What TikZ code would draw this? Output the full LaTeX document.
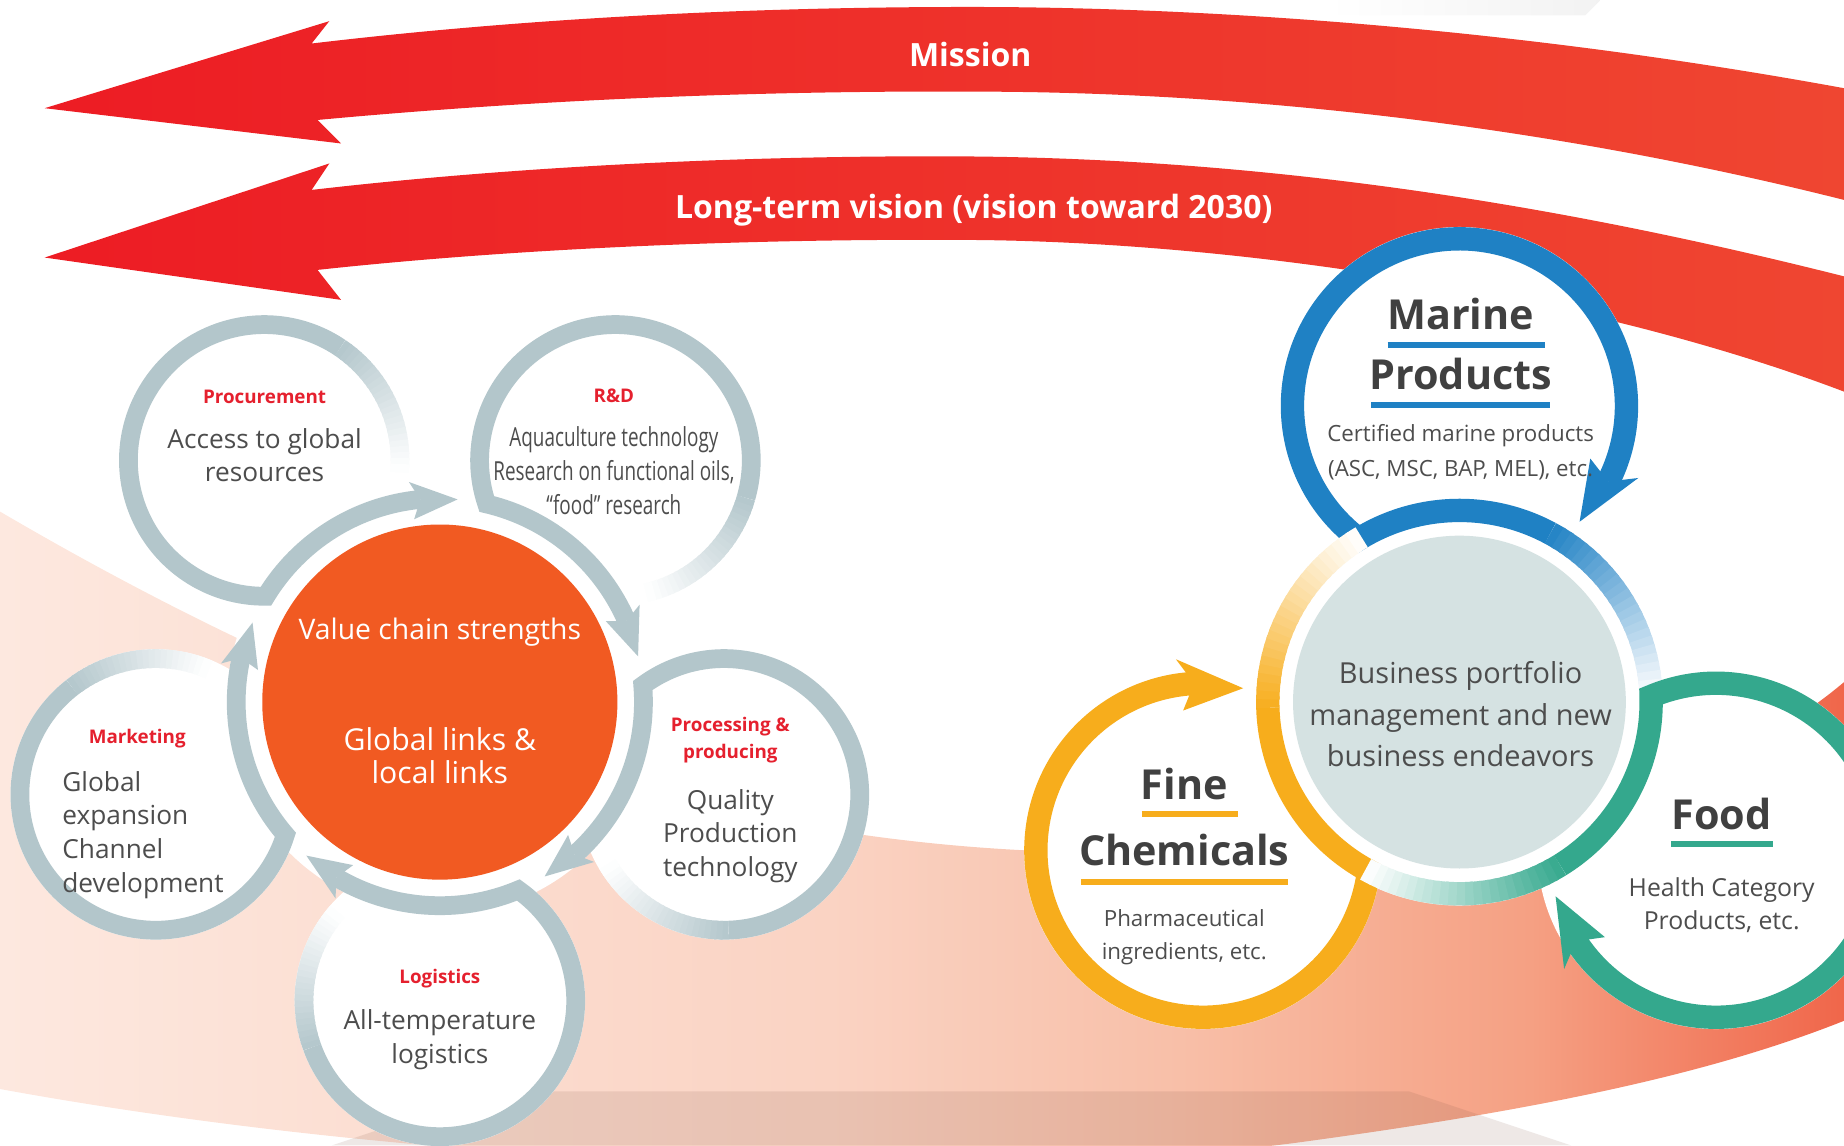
\documentclass[tikz,border=0pt]{standalone}
\usepackage{fontspec}
\setmainfont{Open Sans}
\newfontfamily\condfont{Open Sans}[FakeStretch=0.72]
\usetikzlibrary{calc}
\definecolor{redA}{HTML}{ED1C24}
\definecolor{redB}{HTML}{EF4631}
\definecolor{ringgrey}{HTML}{B3C6CB}
\definecolor{vcorange}{HTML}{F15A22}
\definecolor{mblue}{HTML}{1F81C4}
\definecolor{fyellow}{HTML}{F7AD1C}
\definecolor{fgreen}{HTML}{34A88D}
\definecolor{bpdisk}{HTML}{D5E2E2}
\definecolor{txtgrey}{HTML}{4D4D4D}
\definecolor{ttlgrey}{HTML}{404040}
\definecolor{lblred}{HTML}{E5202E}
\definecolor{bandA}{HTML}{FDE8DF}
\definecolor{bandB}{HTML}{FAD3C3}
\definecolor{bandC}{HTML}{F8BFA8}
\definecolor{bandD}{HTML}{F5A083}
\definecolor{bandE}{HTML}{F0664A}
\definecolor{shadowc}{HTML}{7A5040}
\pgfdeclarehorizontalshading{bandshade}{100bp}{color(0bp)=(bandA); color(25bp)=(bandA); color(47.5bp)=(bandB); color(57bp)=(bandC); color(66.5bp)=(bandD); color(75bp)=(bandE); color(100bp)=(bandE)}
\newcommand\FS[2]{\fontsize{#1pt}{#2pt}\selectfont}
\newcommand\FadeArc[6]{%
  \foreach \i in {0,...,23}{%
    \pgfmathsetmacro\FAa{#3+(#4-#3)*\i/24}%
    \pgfmathsetmacro\FAb{#3+(#4-#3)*(\i+1.4)/24}%
    \pgfmathtruncatemacro\FAp{100-100*(\i+0.5)/24}%
    \draw[line width=#6, draw=#5!\FAp!white] ($(#1)+(\FAa:#2)$) arc[start angle=\FAa, end angle=\FAb, radius=#2];%
  }}
\tikzset{
  lringst/.style={draw=ringgrey, line width=9.07pt, line join=miter},
  rringst/.style={line width=11.3pt, line join=miter},
  lbl/.style={text=lblred, font=\FS{9.1}{11}\bfseries, inner sep=0pt, anchor=base},
  bodyt/.style={text=txtgrey, font=\FS{12.7}{15}, inner sep=0pt, anchor=base},
  condt/.style={text=txtgrey, font=\condfont\FS{12.7}{15}, inner sep=0pt, anchor=base},
  whitet/.style={text=white, inner sep=0pt, anchor=base},
  ttl/.style={text=ttlgrey, font=\FS{20}{24}\bfseries, inner sep=0pt, anchor=base},
  smallt/.style={text=txtgrey, font=\FS{10.8}{13}, inner sep=0pt, anchor=base},
  bpt/.style={text=txtgrey, font=\FS{14}{17}, inner sep=0pt, anchor=base},
  hdr/.style={text=white, font=\FS{15.5}{18}\bfseries, inner sep=0pt, anchor=base},
  uline/.style={line width=2.9pt}
}
\begin{document}
\begin{tikzpicture}[x=0.02cm, y=-0.02cm]
\useasboundingbox (0,0) rectangle (1568,974);
\clip (0,0) rectangle (1568,974);
\coordinate (C) at (374,597);
\coordinate (B) at (1241,597);
% background swoosh
\shade[shading=bandshade] (0,435) .. controls (350,640) and (650,725) .. (950,725) .. controls (1250,725) and (1450,680) .. (1568,580) -- (1568,868) .. controls (1450,915) and (1300,945) .. (1100,972) .. controls (800,1010) and (350,990) .. (0,926) -- cycle;
\fill[shadowc, opacity=0.13] (420,928) -- (1198,928) -- (1336,974) -- (282,974) -- cycle;
% faint top shadow
\shade[left color=white, right color=black!5] (1128,0) -- (1361,0) -- (1348,13) -- (1128,13) -- cycle;
% red arrows
\shade[left color=redA, right color=redB] (38,92) -- (280,18) -- (265,37) .. controls (450,15) and (650,5) .. (850,6) .. controls (1100,8) and (1350,35) .. (1568,75) -- (1568,170) .. controls (1350,115) and (1100,80) .. (850,78) .. controls (600,76) and (400,90) .. (270,102) -- (290,122) -- cycle;
\shade[left color=redA, right color=redB] (38,219) -- (280,139) -- (265,161.5) .. controls (450,140) and (650,132) .. (820,133) .. controls (1100,135) and (1350,180) .. (1568,235) -- (1568,333) .. controls (1350,250) and (1050,205) .. (820,204) .. controls (650,203) and (450,210) .. (270,229.5) -- (290,255) -- cycle;
\node[hdr] (mission) at (825,56.7) {Mission};
\node[hdr] (vision) at (828,185.6) {Long-term vision (vision toward 2030)};
% ---------- left cluster ----------
\foreach \ph/\nm in {234/proc,306/rd,18/pp,90/lg,162/mk}{
  \coordinate (S\nm) at ($(C)+(\ph:254)$);
  \fill[white] (S\nm) circle (123.5);
}
\fill[white] (C) circle (181);
\foreach \ph/\nm in {234/proc,306/rd,18/pp,90/lg,162/mk}{
  \pgfmathsetmacro\ps{\ph+180}
  \pgfmathsetmacro\aA{\ps+250}
  \pgfmathsetmacro\aJ{\ps+35.3}
  \pgfmathsetmacro\cJ{\ph-22.7}
  \pgfmathsetmacro\tp{\ph+41}
  \pgfmathsetmacro\cE{\tp-10.5}
  \draw[lringst] ($(S\nm)+(\aA:115.5)$) arc[start angle=\aA, end angle=\aJ, radius=115.5] arc[start angle=\cJ, end angle=\cE, radius=173];
  \FadeArc{S\nm}{115.5}{\aA}{\aA+60}{ringgrey}{9.07pt}
  \fill[ringgrey] ($(C)+(\tp:173)$) -- ($(C)+({\tp-13}:189)$) -- ($(C)+({\tp-10.5}:173)$) -- ($(C)+({\tp-13}:157)$) -- cycle;
}
\fill[vcorange] (C) circle (151);
% ---------- right cluster ----------
\foreach \ph/\nm in {270/mar,150/fc,30/fd}{
  \coordinate (R\nm) at ($(B)+(\ph:252)$);
  \fill[white] (R\nm) circle (152);
}
\fill[white] (B) circle (173);
\foreach \ph/\col in {270/mblue,150/fyellow,30/fgreen}{
  \pgfmathsetmacro\ps{\ph+180}
  \pgfmathsetmacro\bJ{\ph-31.7}
  \pgfmathsetmacro\bS{\ph-31.7+60}
  \pgfmathsetmacro\sJ{\ps+37.1}
  \pgfmathsetmacro\tp{\ps+314}
  \pgfmathsetmacro\sE{\tp-17}
  \coordinate (Q) at ($(B)+(\ph:252)$);
  \draw[rringst, draw=\col] ($(B)+(\bS:163)$) arc[start angle=\bS, end angle=\bJ, radius=163] arc[start angle=\sJ, end angle=\sE, radius=142];
  \FadeArc{B}{163}{\bS}{\bS+60}{\col}{11.3pt}
  \fill[\col] ($(Q)+(\tp:142)$) -- ($(Q)+({\tp-22}:164)$) -- ($(Q)+({\tp-17}:142)$) -- ($(Q)+({\tp-22}:120)$) -- cycle;
}
\fill[bpdisk] (B) circle (141.5);
% ---------- left texts ----------
\node[lbl] (procL) at (225,343) {Procurement};
\node[bodyt] (proc1) at (225,381.3) {Access to global};
\node[bodyt] (proc2) at (225,409.7) {resources};
\node[lbl] (rdL) at (522,342.5) {R\&D};
\node[condt] (rd1) at (522,380) {Aquaculture technology};
\node[condt] (rd2) at (522,408.8) {Research on functional oils,};
\node[condt] (rd3) at (522,437.2) {“food” research};
\node[whitet, font=\FS{13.7}{16}] (vc1) at (374,544) {Value chain strengths};
\node[whitet, font=\FS{14.6}{17}] (vc2) at (374,638) {Global links \&};
\node[whitet, font=\FS{14.6}{17}] (vc3) at (374,666.6) {local links};
\node[lbl] (ppL1) at (621,622) {Processing \&};
\node[lbl] (ppL2) at (621,645) {producing};
\node[bodyt] (pp1) at (621,688.6) {Quality};
\node[bodyt] (pp2) at (621,716) {Production};
\node[bodyt] (pp3) at (621,745) {technology};
\node[lbl] (mkL) at (116.7,632) {Marketing};
\node[bodyt, anchor=base west] (mk1) at (52.7,672.6) {Global};
\node[bodyt, anchor=base west] (mk2) at (52.7,701) {expansion};
\node[bodyt, anchor=base west] (mk3) at (52.7,730) {Channel};
\node[bodyt, anchor=base west] (mk4) at (52.7,758.8) {development};
\node[lbl] (lgL) at (374,836.7) {Logistics};
\node[bodyt] (lg1) at (374,875.3) {All-temperature};
\node[bodyt] (lg2) at (374,904.3) {logistics};
% ---------- right texts ----------
\node[ttl] (mar1) at (1242,280.6) {Marine};
\draw[uline, mblue] (1180,293.4) -- (1314,293.4);
\node[ttl] (mar2) at (1242,331.6) {Products};
\draw[uline, mblue] (1166,344.4) -- (1318,344.4);
\node[smallt] (mar3) at (1242,375.6) {Certified marine products};
\node[smallt] (mar4) at (1242,405.3) {(ASC, MSC, BAP, MEL), etc.};
\node[bpt] (bp1) at (1242,581.6) {Business portfolio};
\node[bpt] (bp2) at (1242,617.2) {management and new};
\node[bpt] (bp3) at (1242,651.8) {business endeavors};
\node[ttl] (fc1) at (1007,679.5) {Fine};
\draw[uline, fyellow] (971,692) -- (1053,692);
\node[ttl] (fc2) at (1007,736) {Chemicals};
\draw[uline, fyellow] (919,750) -- (1095,750);
\node[smallt] (fc3) at (1007,787.7) {Pharmaceutical};
\node[smallt] (fc4) at (1007,815.5) {ingredients, etc.};
\node[ttl] (fd1) at (1464,705.5) {Food};
\draw[uline, fgreen] (1421,717.5) -- (1508,717.5);
\node[bodyt, font=\FS{12}{14}] (fd2) at (1464,762) {Health Category};
\node[bodyt, font=\FS{12}{14}] (fd3) at (1464,790) {Products, etc.};
\end{tikzpicture}
\end{document}
